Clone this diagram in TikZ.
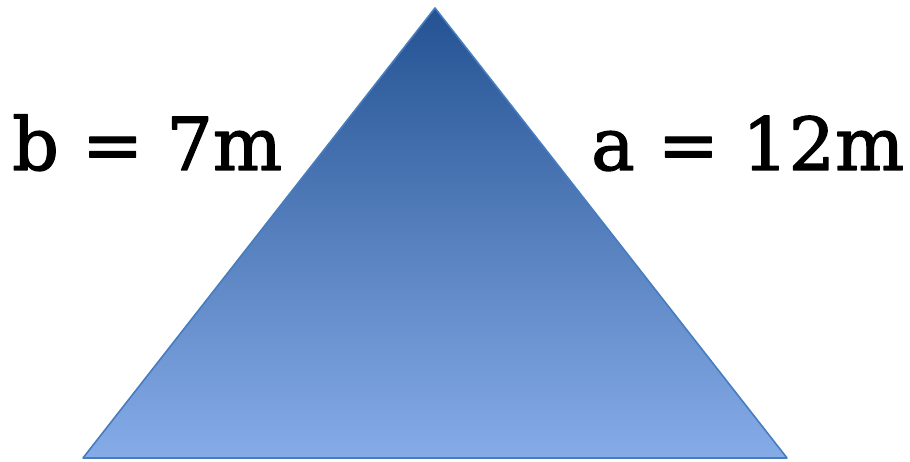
\documentclass[tikz,border=0pt]{standalone}
\usepackage{fontspec}
\newfontfamily\labelfont{DejaVu Serif}[FakeBold=1.8]
\definecolor{tritop}{RGB}{36,82,146}
\definecolor{tribot}{RGB}{134,172,232}
\definecolor{triedge}{RGB}{70,124,192}
\tikzset{sidelabel/.style={anchor=base west, inner sep=0pt, font=\fontsize{73}{76}\selectfont\labelfont}}
\begin{document}
\begin{tikzpicture}[x=1pt, y=1pt, line cap=round, line join=round]
    \useasboundingbox (0,0) rectangle (910,461);
    \coordinate (apex) at (435,453);
    \coordinate (left) at (83,3);
    \coordinate (right) at (787,3);
    \shade[top color=tritop, bottom color=tribot] (apex) -- (left) -- (right) -- cycle;
    \draw[triedge, line width=1.6pt] (apex) -- (left) -- (right) -- cycle;
    \node[sidelabel] (bside) at (12,291) {b = 7m};
    \node[sidelabel] (aside) at (591,291) {a = 12m};
  \end{tikzpicture}
\end{document}
